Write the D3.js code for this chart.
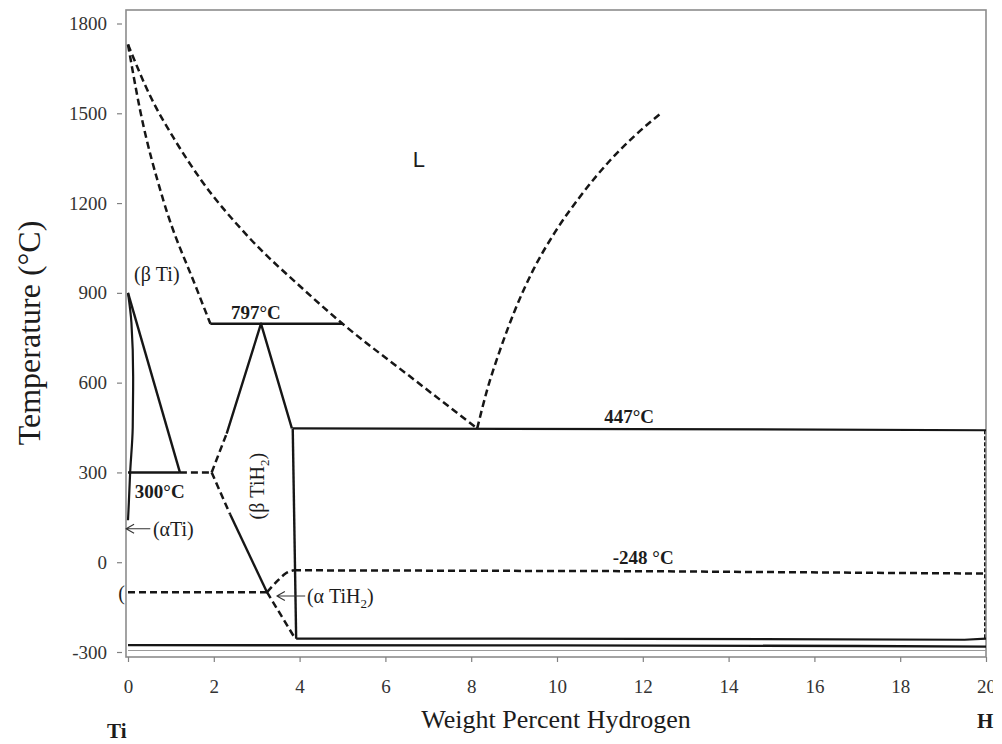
<!DOCTYPE html>
<html>
<head>
<meta charset="utf-8">
<script src="https://cdn.jsdelivr.net/npm/d3@7"></script>
<style>
  html, body { margin: 0; padding: 0; background: #fff; }
  svg { display: block; }
  text { font-family: "Liberation Serif", "Times New Roman", serif; }
</style>
</head>
<body>
<svg id="chart" width="1002" height="744"></svg>
<script>
// Axis ticks
const xTicks = [0, 2, 4, 6, 8, 10, 12, 14, 16, 18, 20];
const yTicks = [-300, 0, 300, 600, 900, 1200, 1500, 1800];

// Invariant temperatures (°C)
const peritecticT = 797;
const eutecticT = 447;
const eutectoidT = 300;

// Phase boundaries, points as [wt% H, °C]
const liquidusTi   = [[0, 1730], [0.51, 1560], [1.1, 1409], [1.68, 1282], [2.84, 1082], [4.01, 922], [5.0, 797], [6.57, 621], [8.14, 447]];
const liquidusH    = [[8.14, 447], [8.37, 575], [8.67, 708], [9.02, 842], [9.44, 975], [9.95, 1102], [10.54, 1222], [11.24, 1343], [11.82, 1426], [12.45, 1503]];
const solidusBeta  = [[0, 1730], [0.28, 1512], [0.82, 1211], [1.61, 910], [1.92, 797]];
const betaTransus  = [[0, 900], [1.21, 300]];
const alphaTransus = [[0, 900], [0.08, 800], [0.12, 620], [0.11, 450], [0.05, 300], [0.02, 200], [0, 140]];

const eutectoidSolid  = [[0, 300], [1.21, 300]];
const eutectoidDashed = [[1.21, 300], [1.95, 300]];
const peritecticLine  = [[1.92, 797], [5.0, 797]];
const eutecticLine    = [[3.84, 447], [12, 445], [20, 441]];

const tih2UpperDashed = [[1.95, 300], [2.3, 430]];
const tih2UpperSolid  = [[2.3, 430], [3.1, 797], [3.82, 447]];
const tih2LowerDashed = [[1.95, 300], [2.38, 160]];
const tih2LowerSolid  = [[2.38, 160], [3.24, -100]];
const tih2LowerTail   = [[3.24, -100], [3.9, -256]];
const hydrideSolvus   = [[3.84, 447], [3.92, -256]];

const alphaTiH2Line   = [[0, -100], [3.24, -100]];
const alphaTiH2Curve  = [[3.24, -100], [3.5, -60], [3.68, -37], [3.87, -27]];
const lowDashedLine   = [[3.87, -27], [12, -30], [20, -38]];
const rightEdgeDashed = [[19.97, 441], [19.97, -256]];

const lowSolidUpper = [[3.92, -255], [12, -256], [19.5, -259], [20, -255]];
const lowSolidLower = [[0, -277], [10, -278], [17, -280], [20, -282]];
const lowThinLine   = [[0, -295], [20, -295]];

// Scales
const x = d3.scaleLinear().domain([0, 20]).range([128, 986]);
const y = d3.scaleLinear().domain([-300, 1800]).range([652, 23.5]);

const svg = d3.select("#chart");

// Plot frame
svg.append("rect")
  .attr("x", 126).attr("y", 10)
  .attr("width", x(20) - 126).attr("height", 657 - 10)
  .attr("fill", "none").attr("stroke", "#8c8c8c").attr("stroke-width", 1.6);

// X axis
svg.append("clipPath").attr("id", "xclip")
  .append("rect").attr("x", 0).attr("y", -10).attr("width", 993).attr("height", 60);
const gx = svg.append("g")
  .attr("transform", "translate(0,657)")
  .attr("clip-path", "url(#xclip)")
  .call(d3.axisBottom(x).tickValues(xTicks).tickSize(5).tickPadding(18).tickFormat(d => String(d)));
gx.select(".domain").remove();
gx.selectAll(".tick line").attr("stroke", "#808080").attr("stroke-width", 1.2);
gx.selectAll(".tick text").attr("fill", "#333").style("font-size", "19px")
  .style("font-family", "'Liberation Serif', serif");

// Y axis
const gy = svg.append("g")
  .attr("transform", "translate(126,0)")
  .call(d3.axisLeft(y).tickValues(yTicks).tickSize(9).tickPadding(10).tickFormat(d => String(d)));
gy.select(".domain").remove();
gy.selectAll(".tick line").attr("x1", -4).attr("stroke", "#808080").attr("stroke-width", 1.2);
gy.selectAll(".tick text").attr("fill", "#333").style("font-size", "19px")
  .style("font-family", "'Liberation Serif', serif");

// Boundary lines
const straight = d3.line().x(d => x(d[0])).y(d => y(d[1]));
const smoothX = d3.line().x(d => x(d[0])).y(d => y(d[1])).curve(d3.curveMonotoneX);
const smoothY = d3.line().x(d => x(d[0])).y(d => y(d[1])).curve(d3.curveMonotoneY);

const plot = svg.append("g").attr("fill", "none").attr("stroke", "#161616")
  .attr("stroke-linejoin", "round");

function solid(pts, gen, w) {
  plot.append("path").attr("d", (gen || straight)(pts)).attr("stroke-width", w || 2.4);
}
function dashed(pts, gen, w, dash) {
  plot.append("path").attr("d", (gen || straight)(pts))
    .attr("stroke-width", w || 2.5).attr("stroke-dasharray", dash || "7,4");
}

dashed(liquidusTi, smoothX);
dashed(liquidusH, smoothX);
dashed(solidusBeta, smoothX);
solid(betaTransus);
solid(alphaTransus, smoothY, 2.2);

solid(eutectoidSolid);
dashed(eutectoidDashed);
solid(peritecticLine);
solid(eutecticLine, straight, 2.2);

dashed(tih2UpperDashed);
solid(tih2UpperSolid);
dashed(tih2LowerDashed);
solid(tih2LowerSolid);
dashed(tih2LowerTail);
solid(hydrideSolvus);

dashed(alphaTiH2Line);
dashed(alphaTiH2Curve, smoothX);
dashed(lowDashedLine);
dashed(rightEdgeDashed, straight, 1.4, "4,2");

solid(lowSolidUpper, straight, 2.2);
solid(lowSolidLower, straight, 2.4);
plot.append("path").attr("d", straight(lowThinLine)).attr("stroke", "#9a9a9a").attr("stroke-width", 1.2);

// Arrows pointing at the single-phase fields
function arrow(x0, x1, yy) {
  plot.append("path")
    .attr("d", `M${x1},${yy}H${x0}M${x0 + 8},${yy - 4.5}L${x0},${yy}L${x0 + 8},${yy + 4.5}`)
    .attr("stroke", "#333").attr("stroke-width", 1.1);
}
arrow(x(-0.045), x(0.52), y(112));
arrow(x(3.47), x(4.13), y(-113));

// Text
const txt = svg.append("g").attr("fill", "#1c1c1c");

function label(str, px, py, size, weight, anchor) {
  return txt.append("text").attr("x", px).attr("y", py)
    .attr("text-anchor", anchor || "start")
    .style("font-size", size + "px").style("font-weight", weight || "normal")
    .text(str);
}

label("L", x(6.64), y(1319), 22).style("font-family", "'Liberation Sans', Arial, sans-serif");
label("(β Ti)", x(0.14), y(938), 20);
label("797°C", x(2.4), y(peritecticT) - 5, 19, "bold");
label("447°C", x(11.1), y(eutecticT) - 5, 19, "bold");
label("300°C", x(0.16), y(eutectoidT) + 26, 19, "bold");
label("-248 °C", x(11.3), y(-27) - 6, 19, "bold");
label("(αTi)", x(0.58), y(87), 20);
label("(", x(-0.23), y(-126), 20);

const aH = label("(α TiH", x(4.17), y(-137), 20);
aH.append("tspan").attr("dy", 5).style("font-size", "13px").text("2");
aH.append("tspan").attr("dy", -5).text(")");

const bH = txt.append("text")
  .attr("transform", `translate(${x(3.18)},${y(254)}) rotate(-90)`)
  .attr("text-anchor", "middle").style("font-size", "20px").text("(β TiH");
bH.append("tspan").attr("dy", 5).style("font-size", "13px").text("2");
bH.append("tspan").attr("dy", -5).text(")");

// Axis titles and end members
label("Weight Percent Hydrogen", 556, 728, 26, "normal", "middle");
txt.append("text")
  .attr("transform", "translate(40,333) rotate(-90)")
  .attr("text-anchor", "middle").style("font-size", "32px").text("Temperature (°C)");
label("Ti", 107, 738, 21, "bold");
label("H", 977, 728, 21, "bold");
</script>
</body>
</html>
